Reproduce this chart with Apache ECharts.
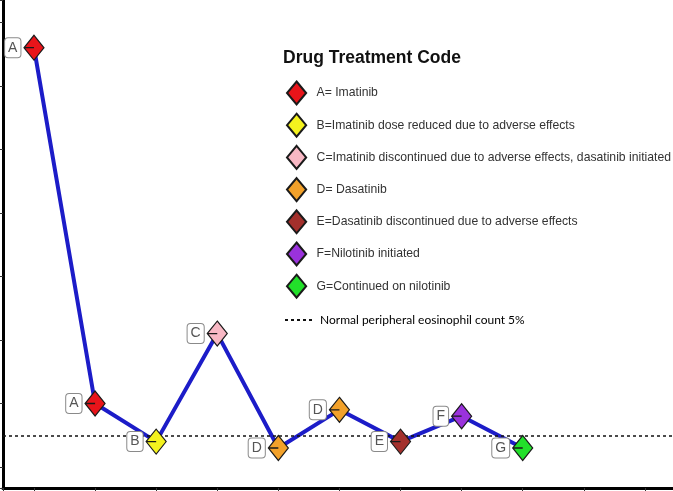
<!DOCTYPE html>
<html>
<head>
<meta charset="utf-8">
<script src="https://cdn.jsdelivr.net/npm/echarts@6/dist/echarts.min.js"></script>
<style>html,body{margin:0;padding:0;background:#fff;}#c{width:673px;height:491px;}</style>
</head>
<body>
<div id="c"></div>
<script>
// Visit-by-visit peripheral eosinophil count (%) and drug treatment code
const visits = [1, 2, 3, 4, 5, 6, 7, 8, 9];
const codes = ['A', 'A', 'B', 'C', 'D', 'D', 'E', 'F', 'G'];
const eosinophil = [66, 10, 4, 21, 3, 9, 4, 8, 3];
const normalLevel = 5;
const codeKeys = ['A', 'B', 'C', 'D', 'E', 'F', 'G'];
const codeNames = [
  'A= Imatinib',
  'B=Imatinib dose reduced due to adverse effects',
  'C=Imatinib discontinued due to adverse effects, dasatinib initiated',
  'D= Dasatinib',
  'E=Dasatinib discontinued due to adverse effects',
  'F=Nilotinib initiated',
  'G=Continued on nilotinib'
];
const codeColors = ['#e8141a', '#f4f21e', '#f8b8c4', '#f2a12a', '#a3302c', '#9a32dc', '#22e02a'];
const normalName = 'Normal peripheral eosinophil count 5%';
const legendTitle = 'Drug Treatment Code';

const diamondMarker = 'path://M10,0L20,12L10,24L0,12Z M0.5,12L10,12Z';
const diamondIcon = 'path://M10,0L20,12L10,24L0,12Z';
const dashIcon = 'path://M0,0h3v2h-3z M6,0h3v2h-3z M12,0h3v2h-3z M18,0h3v2h-3z M24,0h3v2h-3z';

const lineData = visits.map((v, i) => [i, eosinophil[i]]);

const scatterSeries = codeKeys.map((k, ci) => ({
  type: 'scatter',
  name: codeNames[ci],
  data: visits.map((v, i) => [i, eosinophil[i], codes[i]]).filter(d => d[2] === k),
  symbol: diamondMarker,
  symbolSize: [20, 25],
  z: 5,
  itemStyle: { color: codeColors[ci], borderColor: '#1a1a1a', borderWidth: 1.2, opacity: 1 },
  label: {
    show: true,
    position: 'left',
    distance: 3,
    formatter: p => p.value[2],
    fontFamily: 'Liberation Sans, Arial, sans-serif',
    fontSize: 14,
    color: '#555',
    backgroundColor: '#fff',
    borderColor: '#8a8a8a',
    borderWidth: 1,
    borderRadius: 3,
    padding: [3, 3, 2, 3]
  },
  emphasis: { disabled: true }
}));

const option = {
  animation: false,
  backgroundColor: '#fff',
  grid: { left: 3, right: 0, top: 0, bottom: 3, containLabel: false },
  title: {
    text: legendTitle,
    left: 283,
    top: 49,
    padding: 0,
    textStyle: { fontFamily: 'Liberation Sans, Arial, sans-serif', fontWeight: 'bold', fontSize: 17.5, color: '#111' }
  },
  legend: [
    {
      orient: 'vertical',
      left: 286,
      top: 80.5,
      padding: 0,
      itemWidth: 20,
      itemHeight: 23,
      itemGap: 7.2,
      selectedMode: false,
      data: codeNames.map(n => ({ name: n, icon: diamondIcon })),
      textStyle: { fontFamily: 'Liberation Sans, Arial, sans-serif', fontSize: 12.2, color: '#333', padding: [0, 0, 0, 5] }
    },
    {
      orient: 'vertical',
      left: 285,
      top: 314,
      padding: 0,
      itemWidth: 27,
      itemHeight: 2,
      itemGap: 0,
      selectedMode: false,
      data: [{ name: normalName, icon: dashIcon }],
      textStyle: { fontFamily: 'Lato, sans-serif', fontSize: 12, color: '#000', padding: [0, 0, 0, 3] }
    }
  ],
  xAxis: {
    type: 'value',
    min: -0.507,
    max: 10.46,
    splitNumber: 11,
    axisLine: { show: true, onZero: false, lineStyle: { color: '#000', width: 3 } },
    axisTick: { show: true, length: 3, lineStyle: { color: '#333' } },
    axisLabel: { show: false },
    splitLine: { show: false }
  },
  yAxis: {
    type: 'value',
    min: -3.3,
    max: 73.5,
    splitNumber: 8,
    axisLine: { show: true, onZero: false, lineStyle: { color: '#000', width: 3 } },
    axisTick: { show: true, length: 3, lineStyle: { color: '#333' } },
    axisLabel: { show: false },
    splitLine: { show: false }
  },
  series: [
    {
      type: 'line',
      name: 'eosinophil',
      data: lineData,
      symbol: 'none',
      z: 2,
      lineStyle: { color: '#1c1cc8', width: 4 },
      emphasis: { disabled: true }
    },
    {
      type: 'line',
      name: normalName,
      data: [],
      symbol: 'none',
      itemStyle: { color: '#111' },
      lineStyle: { color: '#111', width: 1.5, type: [3, 3] },
      markLine: {
        silent: true,
        symbol: ['none', 'none'],
        label: { show: false },
        lineStyle: { color: '#111', width: 1.5, type: [3, 3] },
        data: [{ yAxis: normalLevel }]
      }
    }
  ].concat(scatterSeries)
};

const chart = echarts.init(document.getElementById('c'), null, { renderer: 'canvas' });
chart.setOption(option);
</script>
</body>
</html>
